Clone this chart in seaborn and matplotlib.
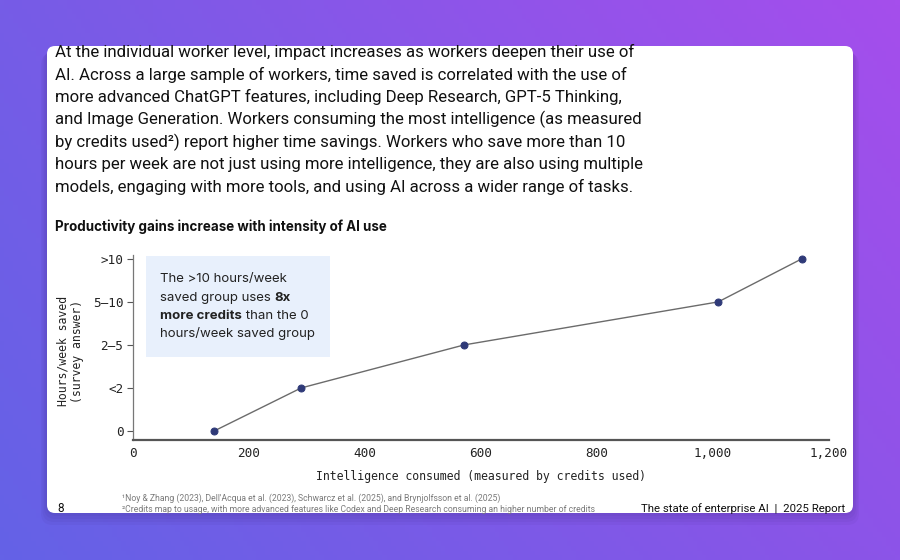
import numpy as np
import pandas as pd
import matplotlib
matplotlib.use("Agg")
import matplotlib.pyplot as plt
from matplotlib.patches import FancyBboxPatch, Rectangle
import seaborn as sns

# ---------------- data ----------------
credits = [140, 290, 571, 1009, 1153]
hours_code = [0, 1, 2, 3, 4]
hours_labels = ["0", "<2", "2\u20135", "5\u201310", ">10"]
x_ticks = [0, 200, 400, 600, 800, 1000, 1200]

paragraph = [
    "At the individual worker level, impact increases as workers deepen their use of",
    "AI. Across a large sample of workers, time saved is correlated with the use of",
    "more advanced ChatGPT features, including Deep Research, GPT-5 Thinking,",
    "and Image Generation. Workers consuming the most intelligence (as measured",
    "by credits used\u00b2) report higher time savings. Workers who save more than 10",
    "hours per week are not just using more intelligence, they are also using multiple",
    "models, engaging with more tools, and using AI across a wider range of tasks.",
]
title = "Productivity gains increase with intensity of AI use"
footnote1 = "\u00b9Noy & Zhang (2023), Dell'Acqua et al. (2023), Schwarcz et al. (2025), and Brynjolfsson et al. (2025)"
footnote2 = "\u00b2Credits map to usage, with more advanced features like Codex and Deep Research consuming an higher number of credits"
footer_right = "The state of enterprise AI  |  2025 Report"
page_no = "8"

df = pd.DataFrame({"credits": credits, "hours": hours_code})

sns.set_theme(style="white")
NARROW = ["Roboto", "DejaVu Sans"]
SANS = ["Inter", "DejaVu Sans"]
MONO = ["DejaVu Sans Mono"]

W, H = 900, 560
fig = plt.figure(figsize=(9, 5.6), dpi=100)

# ---------- background (pixel coordinates) ----------
bg = fig.add_axes([0, 0, 1, 1])
bg.set_xlim(0, W)
bg.set_ylim(H, 0)
bg.axis("off")
tl = np.array([118, 92, 230]) / 255
tr = np.array([165, 78, 236]) / 255
bl = np.array([100, 98, 230]) / 255
br = np.array([140, 84, 232]) / 255
u = np.linspace(0, 1, 200)[None, :, None]
v = np.linspace(0, 1, 120)[:, None, None]
grad = (1 - v) * ((1 - u) * tl + u * tr) + v * ((1 - u) * bl + u * br)
bg.imshow(grad, extent=[0, W, H, 0], aspect="auto", zorder=0)

# shadow + card
for i, a in enumerate([0.05, 0.05, 0.05, 0.05]):
    off = 3 + i * 3
    bg.add_patch(FancyBboxPatch((47 - off / 2, 47 + off / 2), 806 + off, 466 + off / 2,
                                boxstyle="round,pad=0,rounding_size=12",
                                fc=(0.2, 0.1, 0.4, a), ec="none", zorder=1))
bg.add_patch(FancyBboxPatch((47, 46), 806, 467, boxstyle="round,pad=0,rounding_size=8",
                            fc="white", ec="none", zorder=2))

# paragraph
for i, line in enumerate(paragraph):
    bg.text(55, 52 + i * 22.5, line, family=NARROW, fontsize=12.1, color="#111111",
            va="center", ha="left", zorder=3)

bg.text(55, 227, title, family=SANS, fontsize=9.65, fontweight="bold", color="#111111",
        va="center", ha="left", zorder=3)

# annotation box
bg.add_patch(Rectangle((146, 256), 184, 101, fc="#e8f0fc", ec="none", zorder=3))
box_fs = 9.5
t1 = bg.text(160, 279, "The >10 hours/week", family=SANS, fontsize=box_fs, color="#222222",
             va="center", ha="left", zorder=4)
t2 = bg.text(160, 298, "saved group uses ", family=SANS, fontsize=box_fs, color="#222222",
             va="center", ha="left", zorder=4)
bg.annotate("8x", xy=(1, 0), xycoords=t2, va="bottom", ha="left", family=SANS,
            fontsize=box_fs, fontweight="bold", color="#222222", zorder=4)
t3 = bg.text(160, 316, "more credits", family=SANS, fontsize=box_fs, fontweight="bold",
             color="#222222", va="center", ha="left", zorder=4)
bg.annotate(" than the 0", xy=(1, 0), xycoords=t3, va="bottom", ha="left", family=SANS,
            fontsize=box_fs, color="#222222", zorder=4)
bg.text(160, 334, "hours/week saved group", family=SANS, fontsize=box_fs, color="#222222",
        va="center", ha="left", zorder=4)

# footer
bg.text(122, 498, footnote1, family=NARROW, fontsize=6.2, color="#7a7a7a", va="center", ha="left", zorder=3)
bg.text(122, 509, footnote2, family=NARROW, fontsize=6.2, color="#7a7a7a", va="center", ha="left", zorder=3)
bg.text(57, 509, page_no, family=NARROW, fontsize=8.5, color="#111111", va="center", ha="left", zorder=3)
bg.text(845, 509, footer_right, family=NARROW, fontsize=8.2, color="#111111", va="center", ha="right", zorder=3)

# ---------- chart ----------
ax_l, ax_r, ax_t, ax_b = 133, 829, 255, 440
ax = fig.add_axes([ax_l / W, 1 - ax_b / H, (ax_r - ax_l) / W, (ax_b - ax_t) / H])
ax.set_facecolor("none")
sns.lineplot(data=df, x="credits", y="hours", ax=ax, color="#6b6b6b", linewidth=1.0,
             marker="o", markersize=5, markerfacecolor="#2f3a78", markeredgecolor="#2f3a78",
             zorder=5)
ax.set_xlim(0, 1200)
ax.set_ylim(-0.21, 4.09)
ax.set_xticks(x_ticks)
ax.set_xticklabels([f"{t:,}" for t in x_ticks])
ax.set_yticks(hours_code)
ax.set_yticklabels(hours_labels)
for lab in ax.get_xticklabels() + ax.get_yticklabels():
    lab.set_family(MONO)
    lab.set_fontsize(9.1)
    lab.set_color("#222222")
ax.tick_params(axis="both", length=4, width=0.8, color="#555555", pad=3, direction="out",
               bottom=True, left=True)
ax.tick_params(axis="x", length=0, pad=5)
for s in ["top", "right"]:
    ax.spines[s].set_visible(False)
ax.spines["left"].set_color("#777777")
ax.spines["left"].set_linewidth(0.9)
ax.spines["bottom"].set_color("#555555")
ax.spines["bottom"].set_linewidth(1.6)
ax.set_xlabel("Intelligence consumed (measured by credits used)", family=MONO,
              fontsize=8.3, color="#222222")
ax.set_ylabel("Hours/week saved\n(survey answer)", family=MONO, fontsize=8.3,
              color="#222222", multialignment="center")
ax.xaxis.set_label_coords(0.5, -0.16)
ax.yaxis.set_label_coords(-0.07, 0.48)

fig.savefig("out.png", dpi=100)
